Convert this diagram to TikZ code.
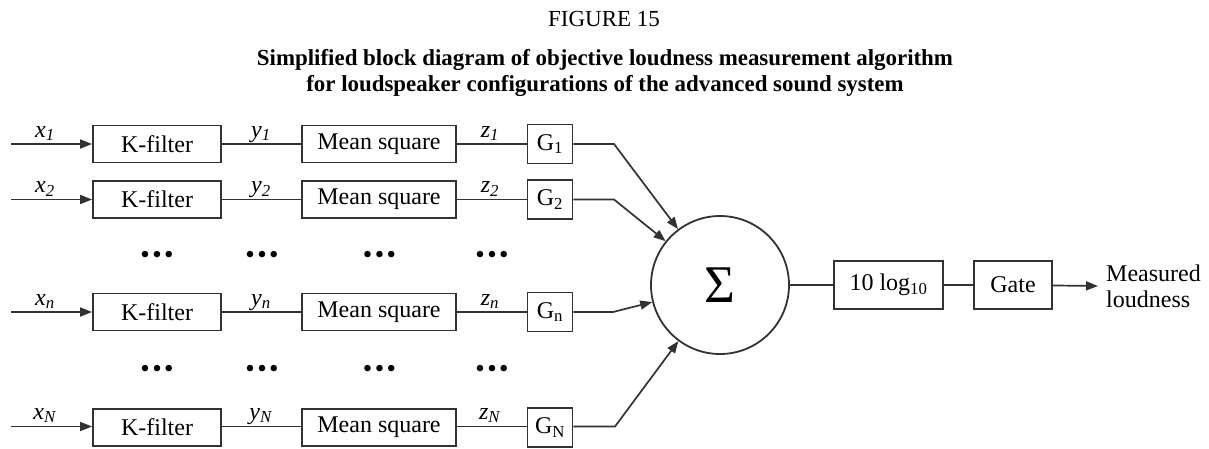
\documentclass[tikz,border=0pt]{standalone}
\usepackage{fontspec}
\setmainfont{Liberation Serif}
\usetikzlibrary{arrows.meta}
\definecolor{linegray}{RGB}{50,50,50}
\newcommand{\lab}[2]{\textit{#1}\textsubscript{\textit{#2}}}
\newcommand{\threedots}{\textbullet\hspace{2.5pt}\textbullet\hspace{2.5pt}\textbullet}
\begin{document}
\begin{tikzpicture}[x=1pt,y=-1pt,
  blk/.style={draw=linegray, line width=1.8pt, inner sep=0pt, minimum height=37pt,
    font=\fontsize{24}{28}\selectfont},
  kbox/.style={blk, minimum width=128pt},
  mbox/.style={blk, minimum width=154pt},
  gbox/.style={blk, minimum width=45pt, minimum height=39pt},
  rbox/.style={blk, minimum height=48pt},
  lab/.style={anchor=base, inner sep=0pt, font=\fontsize{24}{28}\selectfont},
  dotsn/.style={inner sep=0pt, font=\fontsize{27}{30}\selectfont},
  conn/.style={draw=linegray, line width=1.7pt},
  arr/.style={conn, -{Triangle[length=12pt,width=9pt]}},
  ttl/.style={anchor=base, inner sep=0pt}
]
\useasboundingbox (0,0) rectangle (1209,448);

% titles
\node[ttl, font=\fontsize{23}{26}\selectfont] (fig) at (604,26.5) {FIGURE 15};
\node[ttl, font=\fontsize{22.9}{26}\bfseries] (t1) at (605,65) {Simplified block diagram of objective loudness measurement algorithm};
\node[ttl, font=\fontsize{22.9}{26}\bfseries] (t2) at (605,91) {for loudspeaker configurations of the advanced sound system};

% summation and output chain
\node[circle, draw=linegray, line width=1.8pt, minimum size=138pt, inner sep=0pt,
  font=\fontsize{53}{56}\selectfont] (sum) at (720,285) {Σ};
\node[rbox, minimum width=109pt] (log) at (888.5,285) {10 log\textsubscript{10}};
\node[rbox, minimum width=78pt] (gate) at (1013,285) {Gate};
\node[anchor=west, align=left, inner xsep=8pt, inner ysep=0pt,
  font=\fontsize{24}{26}\selectfont] (out) at (1098,286) {Measured\\loudness};
\draw[conn] (sum) -- (log);
\draw[conn] (log) -- (gate);
\draw[arr] (gate) -- (out.west);

% row 1
\coordinate (in1) at (11,144);
\node[kbox] (k1) at (157,144) {K-filter};
\node[mbox] (m1) at (379,144) {Mean square};
\node[gbox] (g1) at (550,144) {G\textsubscript{1}};
\coordinate (b1) at (614,144);
\node[lab] (x1) at (45,137) {\lab{x}{1}};
\node[lab] (y1) at (261,137) {\lab{y}{1}};
\node[lab] (z1) at (490,137) {\lab{z}{1}};
\draw[arr] (in1) -- (k1);
\draw[conn] (k1) -- (m1);
\draw[conn] (m1) -- (g1);
\draw[arr] (g1) -- (b1) -- (sum);

% row 2
\coordinate (in2) at (11,199.5);
\node[kbox] (k2) at (157,199.5) {K-filter};
\node[mbox] (m2) at (379,199.5) {Mean square};
\node[gbox] (g2) at (550,199.5) {G\textsubscript{2}};
\coordinate (b2) at (614,199.5);
\node[lab] (x2) at (45,192.5) {\lab{x}{2}};
\node[lab] (y2) at (261,192.5) {\lab{y}{2}};
\node[lab] (z2) at (490,192.5) {\lab{z}{2}};
\draw[arr] (in2) -- (k2);
\draw[conn] (k2) -- (m2);
\draw[conn] (m2) -- (g2);
\draw[arr] (g2) -- (b2) -- (sum);

% dots row a
\node[dotsn] (da1) at (157,257) {\threedots};
\node[dotsn] (da2) at (262,257) {\threedots};
\node[dotsn] (da3) at (379.5,257) {\threedots};
\node[dotsn] (da4) at (492,257) {\threedots};

% row n
\coordinate (inn) at (11,312);
\node[kbox] (kn) at (157,312) {K-filter};
\node[mbox] (mn) at (379,312) {Mean square};
\node[gbox] (gn) at (550,312) {G\textsubscript{n}};
\coordinate (bn) at (613,312);
\node[lab] (xn) at (45,305) {\lab{x}{n}};
\node[lab] (yn) at (261,305) {\lab{y}{n}};
\node[lab] (zn) at (490,305) {\lab{z}{n}};
\draw[arr] (inn) -- (kn);
\draw[conn] (kn) -- (mn);
\draw[conn] (mn) -- (gn);
\draw[arr] (gn) -- (bn) -- (sum);

% dots row b
\node[dotsn] (db1) at (157,371) {\threedots};
\node[dotsn] (db2) at (262,371) {\threedots};
\node[dotsn] (db3) at (379.5,371) {\threedots};
\node[dotsn] (db4) at (492,371) {\threedots};

% row N
\coordinate (inN) at (11,426.5);
\node[kbox] (kN) at (157,427.5) {K-filter};
\node[mbox] (mN) at (379,427.5) {Mean square};
\node[gbox] (gN) at (550,427.5) {G\textsubscript{N}};
\coordinate (bN) at (615,426.5);
\node[lab] (xN) at (45,419) {\lab{x}{N}};
\node[lab] (yN) at (261,419) {\lab{y}{N}};
\node[lab] (zN) at (490,419) {\lab{z}{N}};
\draw[arr] (inN) -- (kN.west |- inN);
\draw[conn] (kN.east |- inN) -- (mN.west |- inN);
\draw[conn] (mN.east |- inN) -- (gN.west |- inN);
\draw[arr] (gN.east |- inN) -- (bN) -- (sum);
\end{tikzpicture}
\end{document}
